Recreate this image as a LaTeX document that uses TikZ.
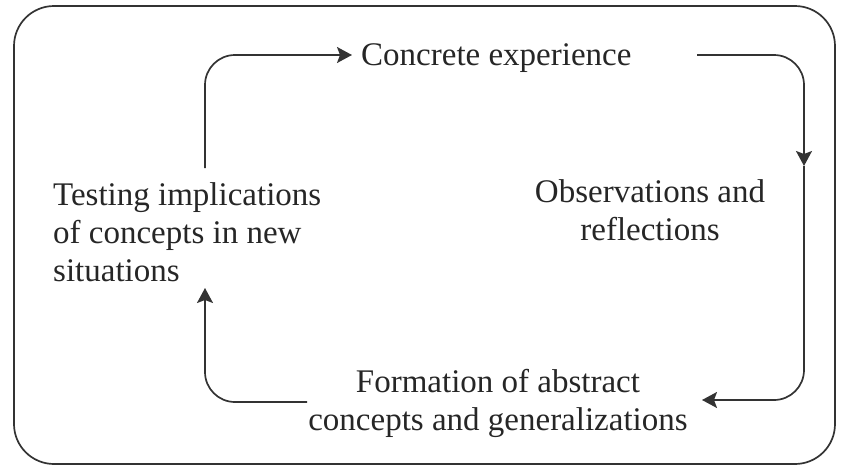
\documentclass[tikz,border=0pt]{standalone}
\usepackage{fontspec}
\setmainfont{Liberation Serif}
\usepackage{tikz}
\usetikzlibrary{arrows.meta}
\definecolor{cyLine}{HTML}{333333}

\begin{document}
\begin{tikzpicture}[
  x=1pt,y=-1pt,
  font=\fontsize{33}{38}\selectfont,
  lbl/.style={inner sep=0pt,text=black!85},
  frame/.style={draw=cyLine,line width=1.7pt,rounded corners=40pt},
  ar/.style={-{Stealth[length=15pt,width=16pt,inset=3pt]},draw=cyLine,
             line width=1.7pt,rounded corners=30pt}]

\useasboundingbox (0,0) rectangle (841,469);
\draw[frame] (14,6) rectangle (835,464);

% base of a multi-line node = baseline of its last line
\node[lbl,anchor=base west] (ce) at (361,65) {Concrete experience};
\node[lbl,anchor=base,align=center] (obs) at (650,240) {Observations and\\reflections};
\node[lbl,anchor=base,align=center] (form) at (498,430) {Formation of abstract\\concepts and generalizations};
\node[lbl,anchor=base west,align=left] (test) at (53,281) {Testing implications\\of concepts in new\\situations};

% arrow ends
\coordinate (ce-in)   at (352,55);
\coordinate (ce-out)  at (697,55);
\coordinate (obs-mid) at (804,166);
\coordinate (form-in) at (702,400);
\coordinate (form-out) at (307,402);
\coordinate (test-in)  at (205,288);
\coordinate (test-out) at (205,168);

\draw[ar] (test-out) |- (ce-in);
\draw[ar] (ce-out) -| (obs-mid);
\draw[ar] (obs-mid) |- (form-in);
\draw[ar] (form-out) -| (test-in);
\end{tikzpicture}
\end{document}
